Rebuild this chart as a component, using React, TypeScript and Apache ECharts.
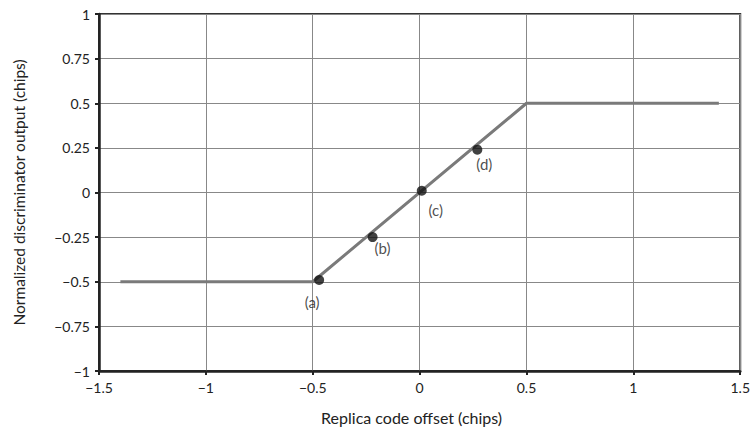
import React, { useEffect, useRef } from "react";
import * as echarts from "echarts";

const curveX = [-1.4, -0.5, 0.5, 1.4];
const curveY = [-0.5, -0.5, 0.5, 0.5];
const pointX = [-0.47, -0.22, 0.01, 0.27];
const pointY = [-0.49, -0.25, 0.01, 0.24];
const pointLabels = ["(a)", "(b)", "(c)", "(d)"];
const labelOffsets: [number, number][] = [[-7, 22], [10, 11], [14, 19], [7, 14]];

const fmt = (v: number) => String(v).replace("-", "\u2212");
const FONT = "Lato, 'Open Sans', sans-serif";

export default function App() {
  const ref = useRef<HTMLDivElement>(null);
  useEffect(() => {
    if (!ref.current) return;
    const chart = echarts.init(ref.current, null, { renderer: "svg" });
    chart.setOption({
      animation: false,
      backgroundColor: "#ffffff",
      grid: {
        left: 99,
        right: 12,
        top: 14,
        bottom: 59,
        show: true,
        borderColor: "#333",
        borderWidth: 2,
      },
      xAxis: {
        type: "value",
        min: -1.5,
        max: 1.5,
        interval: 0.5,
        name: "Replica code offset (chips)",
        nameLocation: "middle",
        nameGap: 38,
        nameTextStyle: { fontFamily: FONT, fontSize: 16, color: "#222", padding: [0, 16, 0, 0] },
        axisLine: { show: true, onZero: false, lineStyle: { color: "#222", width: 2.5 } },
        axisTick: { show: true, length: 4, lineStyle: { color: "#222", width: 2 } },
        axisLabel: { formatter: fmt, fontFamily: FONT, fontSize: 14, color: "#222", margin: 9 },
        splitLine: { show: true, lineStyle: { color: "#888", width: 1 } },
      },
      yAxis: {
        type: "value",
        min: -1,
        max: 1,
        interval: 0.25,
        name: "Normalized discriminator output (chips)",
        nameLocation: "middle",
        nameGap: 72,
        nameTextStyle: { fontFamily: FONT, fontSize: 15.5, color: "#222" },
        axisLine: { show: true, onZero: false, lineStyle: { color: "#222", width: 2.5 } },
        axisTick: { show: true, length: 4, lineStyle: { color: "#222", width: 2 } },
        axisLabel: { formatter: fmt, fontFamily: FONT, fontSize: 14, color: "#222", margin: 9 },
        splitLine: { show: true, lineStyle: { color: "#888", width: 1 } },
      },
      series: [
        {
          type: "line",
          data: curveX.map((x, i) => [x, curveY[i]]),
          symbol: "none",
          lineStyle: { color: "#7a7a7a", width: 3 },
          z: 3,
        },
        {
          type: "scatter",
          data: pointX.map((x, i) => ({
            value: [x, pointY[i]],
            label: {
              show: true,
              formatter: pointLabels[i],
              position: "inside",
              offset: labelOffsets[i],
            },
          })),
          symbol: "circle",
          symbolSize: 10,
          itemStyle: { color: "#111" },
          label: { fontFamily: FONT, fontSize: 15, color: "#222" },
          z: 5,
        },
      ],
    });
    return () => chart.dispose();
  }, []);
  return <div ref={ref} style={{ width: 753, height: 430, position: "absolute", left: 0, top: 0 }} />;
}
